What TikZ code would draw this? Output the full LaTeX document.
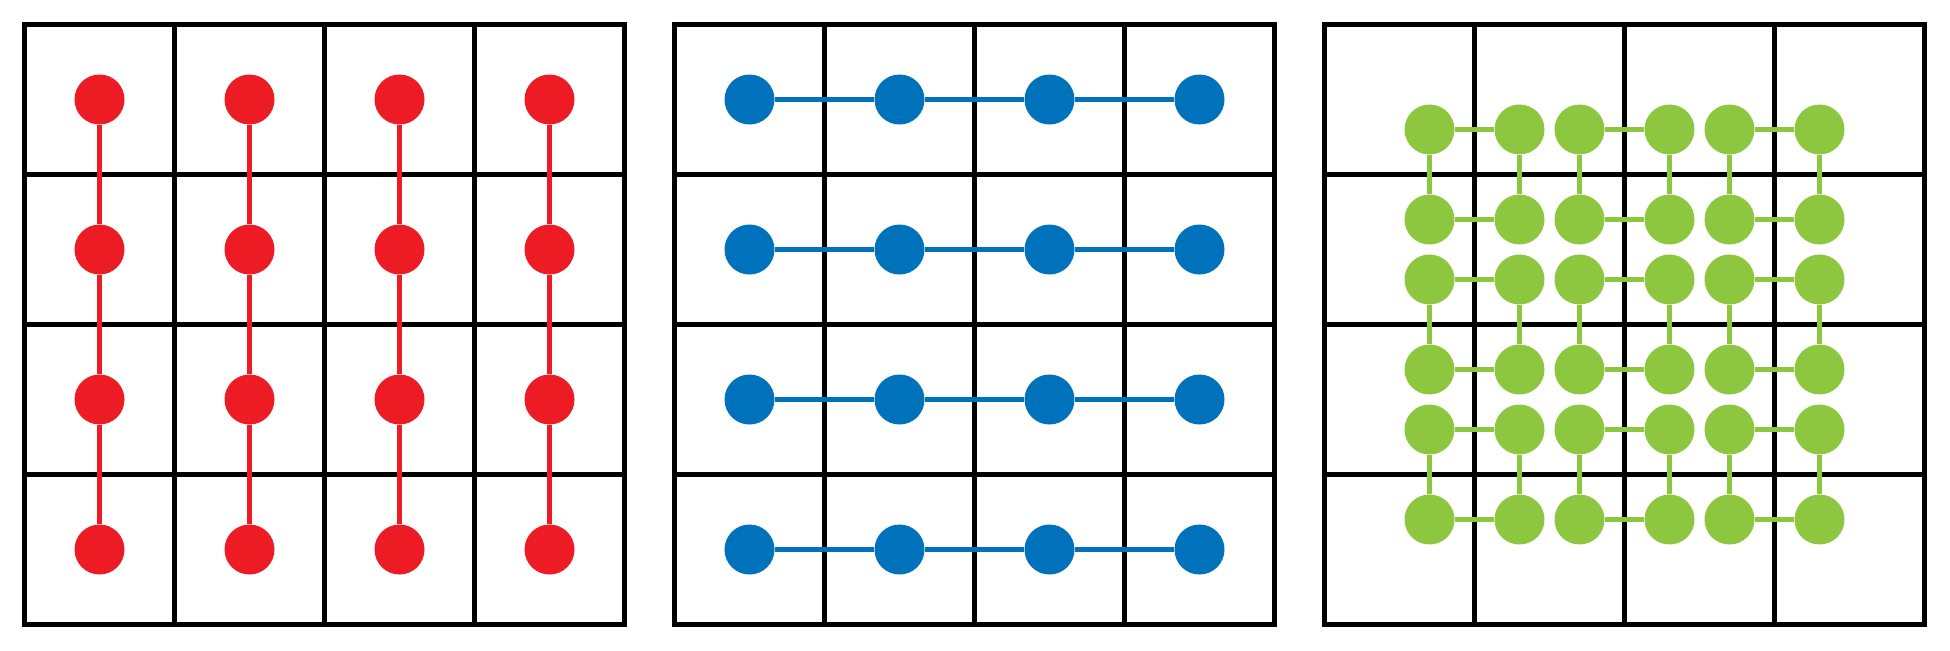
\documentclass[tikz,border=0pt]{standalone}
\definecolor{dotred}{HTML}{ED1C24}
\definecolor{dotblue}{HTML}{0072BC}
\definecolor{dotgreen}{HTML}{8DC63F}
\begin{document}
\begin{tikzpicture}[x=0.5pt,y=-0.5pt,
  gridline/.style={line width=2.5pt, draw=black},
  dot/.style={circle, inner sep=0pt, minimum size=25pt, fill=#1, draw=none},
  link/.style={line width=2.5pt, draw=#1}]
\useasboundingbox (0,0) rectangle (1950,650);
% grids
\foreach \p in {0,1,2}{
  \pgfmathsetmacro\xo{24.5+650*\p}
  \foreach \k in {1,2,3}{
    \draw[gridline] (\xo+150*\k,24.5) -- ++(0,600);
    \draw[gridline] (\xo,24.5+150*\k) -- ++(600,0);
  }
  \draw[gridline] (\xo,24.5) rectangle ++(600,600);
}
% red panel
\foreach \i in {1,...,4}{
  \foreach \j in {1,...,4}{
    \node[dot=dotred] (r\i\j) at (24.5+150*\i-75, 24.5+150*\j-75) {};
    \node[dot=dotblue] (b\i\j) at (674.5+150*\i-75, 24.5+150*\j-75) {};
  }
}
\foreach \i in {1,...,4}{
  \foreach \j/\k in {1/2,2/3,3/4}{
    \draw[link=dotred] (r\i\j) -- (r\i\k);
    \draw[link=dotblue] (b\j\i) -- (b\k\i);
  }
}
% green panel
\foreach \xx [count=\i] in {105,195,255,345,405,495}{
  \foreach \yy [count=\j] in {105,195,255,345,405,495}{
    \node[dot=dotgreen] (g\i-\j) at (1324.5+\xx, 24.5+\yy) {};
  }
}
\foreach \n in {1,...,6}{
  \foreach \a/\b in {1/2,3/4,5/6}{
    \draw[link=dotgreen] (g\a-\n) -- (g\b-\n);
    \draw[link=dotgreen] (g\n-\a) -- (g\n-\b);
  }
}
\end{tikzpicture}
\end{document}
